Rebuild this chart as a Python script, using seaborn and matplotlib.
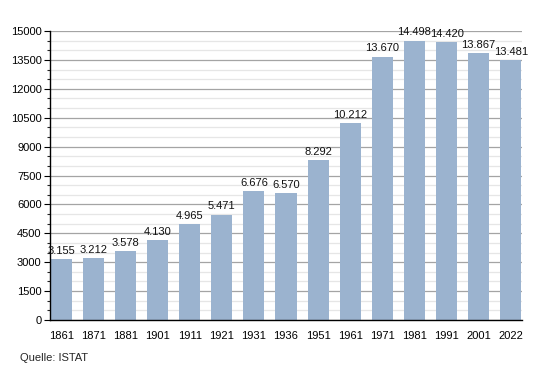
import matplotlib
matplotlib.use("Agg")
import matplotlib.pyplot as plt
import seaborn as sns
import pandas as pd
from matplotlib.ticker import MultipleLocator

years = ["1861", "1871", "1881", "1901", "1911", "1921", "1931", "1936",
         "1951", "1961", "1971", "1981", "1991", "2001", "2022"]
population = [3155, 3212, 3578, 4130, 4965, 5471, 6676, 6570,
              8292, 10212, 13670, 14498, 14420, 13867, 13481]
labels = ["3.155", "3.212", "3.578", "4.130", "4.965", "5.471", "6.676", "6.570",
          "8.292", "10.212", "13.670", "14.498", "14.420", "13.867", "13.481"]

sns.set_theme(style="white")
plt.rcParams['font.family'] = ['Liberation Sans', 'DejaVu Sans']

df = pd.DataFrame({"year": years, "pop": population})

fig = plt.figure(figsize=(5.5, 3.7), dpi=100)
ax = fig.add_axes([50/550, 50/370, 472/550, 289/370])

ax.yaxis.set_major_locator(MultipleLocator(1500))
ax.yaxis.set_minor_locator(MultipleLocator(500))
ax.grid(which="major", axis="y", color="#a4a4a4", linewidth=0.9)
ax.grid(which="minor", axis="y", color="#e6e6e6", linewidth=0.9)
ax.set_axisbelow(True)

bar_w = 0.66
sns.barplot(data=df, x="year", y="pop", color="#9bb3cf", saturation=1,
            width=bar_w, linewidth=0, ax=ax)

for i, (v, lab) in enumerate(zip(population, labels)):
    ax.text(i, v + 170, lab, ha="center", va="bottom", fontsize=8, color="#111111")

ax.set_ylim(0, 15000)
ax.set_xlim(-bar_w / 2 - 0.02, len(years) - 1 + bar_w / 2 + 0.02)
ax.set_xlabel("")
ax.set_ylabel("")
for s in ["top", "right"]:
    ax.spines[s].set_visible(False)
ax.spines["left"].set_color("black")
ax.spines["bottom"].set_color("black")
ax.spines["left"].set_linewidth(1)
ax.spines["bottom"].set_linewidth(1)
ax.tick_params(axis="y", which="major", left=True, length=4, width=0.8,
               labelsize=8, colors="black", pad=2)
ax.tick_params(axis="y", which="minor", left=True, length=2, width=0.8)
ax.tick_params(axis="x", bottom=False, labelsize=8, colors="black", pad=2)

fig.text(20/550, 1 - 358/370, "Quelle: ISTAT", fontsize=8, ha="left", va="center")

fig.savefig("out.png", dpi=100)
